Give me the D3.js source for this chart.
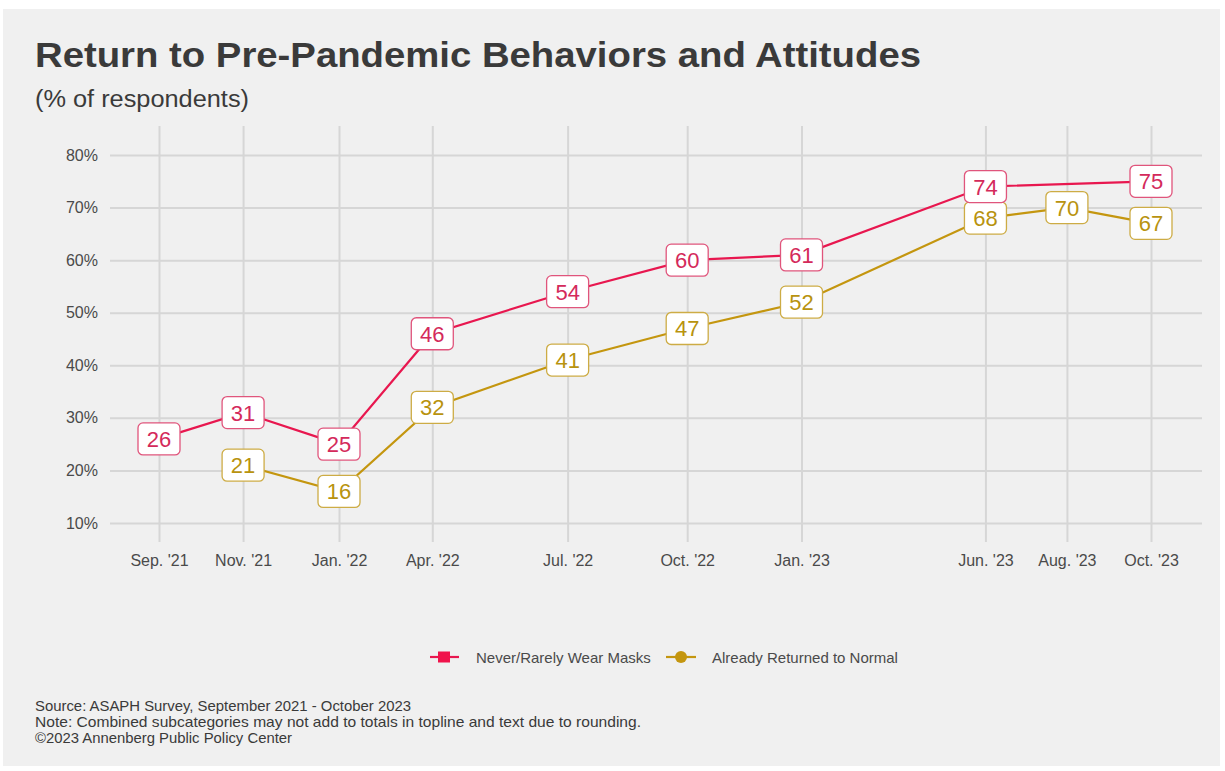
<!DOCTYPE html>
<html>
<head>
<meta charset="utf-8">
<script src="https://cdn.jsdelivr.net/npm/d3@7"></script>
<style>
  body { margin: 0; background: #ffffff; }
  svg text { font-family: "Liberation Sans", Arial, Helvetica, sans-serif; }
</style>
</head>
<body>
<div id="chart"></div>
<script>
// survey waves (approximate field dates) and tick labels
const waveDates = ["2021-09-10", "2021-11-13", "2022-01-25", "2022-04-06", "2022-07-18",
  "2022-10-17", "2023-01-12", "2023-06-01", "2023-08-02", "2023-10-05"];
const waveLabels = ["Sep. '21", "Nov. '21", "Jan. '22", "Apr. '22", "Jul. '22",
  "Oct. '22", "Jan. '23", "Jun. '23", "Aug. '23", "Oct. '23"];
const masksValues = [26, 31, 25, 46, 54, 60, 61, 74, null, 75];
const normalValues = [null, 21, 16, 32, 41, 47, 52, 68, 70, 67];
const yTicks = [10, 20, 30, 40, 50, 60, 70, 80];
const seriesNames = ["Never/Rarely Wear Masks", "Already Returned to Normal"];

const parseDate = d3.timeParse("%Y-%m-%d");

let config = {
  width: 1225,
  height: 771,
  pink: "#e8174f",
  pinkText: "#d42a5b",
  pinkBorder: "#e0557c",
  gold: "#c4960f",
  goldText: "#b8930f",
  goldBorder: "#cdac45",
  grid: "#d6d6d6",
  axisText: "#4a4a4a"
};

const svg = d3.select("#chart").append("svg")
  .attr("width", config.width)
  .attr("height", config.height);

svg.append("rect")
  .attr("x", 3).attr("y", 9)
  .attr("width", 1217).attr("height", 757)
  .attr("fill", "#f0f0f0");

const x = d3.scaleTime()
  .domain([parseDate(waveDates[0]), parseDate(waveDates[waveDates.length - 1])])
  .range([159, 1151]);

const y = d3.scaleLinear()
  .domain([10, 80])
  .range([523, 155]);

const panel = { left: 110, right: 1202, top: 126, bottom: 542 };

// grid
const gy = svg.append("g")
  .attr("transform", `translate(${panel.left},0)`)
  .call(d3.axisLeft(y).tickValues(yTicks)
    .tickSize(-(panel.right - panel.left))
    .tickPadding(12)
    .tickFormat(d => d + "%"));
gy.select(".domain").remove();
gy.selectAll(".tick line").attr("stroke", config.grid).attr("stroke-width", 2);
gy.selectAll(".tick text")
  .attr("fill", config.axisText)
  .attr("font-size", 16);

const gx = svg.append("g")
  .attr("transform", `translate(0,${panel.bottom})`)
  .call(d3.axisBottom(x)
    .tickValues(waveDates.map(parseDate))
    .tickSize(-(panel.bottom - panel.top))
    .tickPadding(13)
    .tickFormat((d, i) => waveLabels[i]));
gx.select(".domain").remove();
gx.selectAll(".tick line").attr("stroke", config.grid).attr("stroke-width", 2);
gx.selectAll(".tick text")
  .attr("fill", config.axisText)
  .attr("font-size", 16);

function seriesPoints(values) {
  return waveDates
    .map((d, i) => ({ date: parseDate(d), value: values[i] }))
    .filter(d => d.value != null);
}

const series = [
  { name: seriesNames[0], points: seriesPoints(masksValues), color: config.pink, text: config.pinkText, border: config.pinkBorder },
  { name: seriesNames[1], points: seriesPoints(normalValues), color: config.gold, text: config.goldText, border: config.goldBorder }
];

const line = d3.line()
  .x(d => x(d.date))
  .y(d => y(d.value));

// gold first so the pink sits on top
series.slice().reverse().forEach(s => {
  svg.append("path")
    .datum(s.points)
    .attr("d", line)
    .attr("fill", "none")
    .attr("stroke", s.color)
    .attr("stroke-width", 2.2);
});

series.slice().reverse().forEach(s => {
  const lab = svg.append("g").selectAll("g")
    .data(s.points)
    .enter()
    .append("g")
    .attr("transform", d => `translate(${x(d.date)},${y(d.value)})`);
  lab.append("rect")
    .attr("x", -21).attr("y", -16)
    .attr("width", 42).attr("height", 32)
    .attr("rx", 5)
    .attr("fill", "#ffffff")
    .attr("stroke", s.border)
    .attr("stroke-width", 1.3);
  lab.append("text")
    .attr("text-anchor", "middle")
    .attr("y", 8)
    .attr("font-size", 22)
    .attr("fill", s.text)
    .text(d => d.value);
});

// titles
svg.append("text")
  .attr("x", 35).attr("y", 67)
  .attr("font-size", 35)
  .attr("font-weight", "bold")
  .attr("fill", "#3a3a3a")
  .attr("textLength", 886)
  .attr("lengthAdjust", "spacingAndGlyphs")
  .text("Return to Pre-Pandemic Behaviors and Attitudes");

svg.append("text")
  .attr("x", 35).attr("y", 107)
  .attr("font-size", 23)
  .attr("fill", "#3a3a3a")
  .attr("textLength", 214)
  .attr("lengthAdjust", "spacingAndGlyphs")
  .text("(% of respondents)");

// legend
const leg0 = svg.append("g").attr("transform", "translate(430,657)");
leg0.append("line").attr("x1", 0).attr("x2", 29).attr("stroke", config.pink).attr("stroke-width", 2.2);
leg0.append("rect").attr("x", 8).attr("y", -5.5).attr("width", 12).attr("height", 11).attr("fill", "#f0134b");
leg0.append("text").attr("x", 46).attr("y", 5.5).attr("font-size", 15).attr("fill", config.axisText).text(seriesNames[0]);

const leg1 = svg.append("g").attr("transform", "translate(666,657)");
leg1.append("line").attr("x1", 0).attr("x2", 30).attr("stroke", config.gold).attr("stroke-width", 2.2);
leg1.append("circle").attr("cx", 15).attr("cy", 0).attr("r", 6).attr("fill", config.gold);
leg1.append("text").attr("x", 46).attr("y", 5.5).attr("font-size", 15).attr("fill", config.axisText).text(seriesNames[1]);

// footer
const notes = [
  "Source: ASAPH Survey, September 2021 - October 2023",
  "Note: Combined subcategories may not add to totals in topline and text due to rounding.",
  "\u00a92023 Annenberg Public Policy Center"
];
const noteWidths = [376, 606, 257];
svg.append("g").selectAll("text")
  .data(notes)
  .enter()
  .append("text")
  .attr("x", 35)
  .attr("y", (d, i) => 711 + i * 16)
  .attr("font-size", 14.5)
  .attr("fill", "#3a3a3a")
  .attr("textLength", (d, i) => noteWidths[i])
  .attr("lengthAdjust", "spacingAndGlyphs")
  .text(d => d);
</script>
</body>
</html>
